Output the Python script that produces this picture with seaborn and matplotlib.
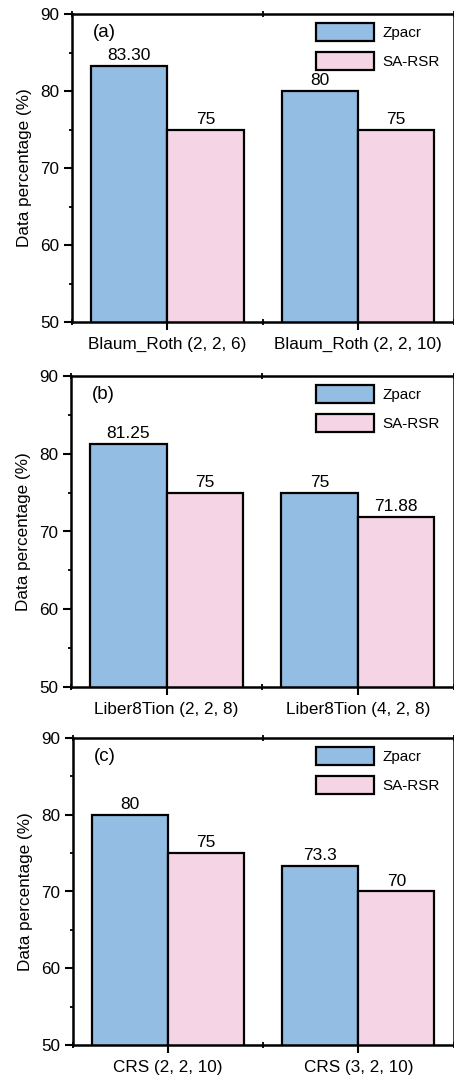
import numpy as np
import pandas as pd
import matplotlib.pyplot as plt
import seaborn as sns
from matplotlib.ticker import MultipleLocator

sns.set_style("ticks")
plt.rcParams['font.family'] = ['Liberation Sans', 'DejaVu Sans']
plt.rcParams['text.color'] = 'black'
plt.rcParams['axes.labelcolor'] = 'black'
plt.rcParams['xtick.color'] = 'black'
plt.rcParams['ytick.color'] = 'black'
plt.rcParams['axes.edgecolor'] = 'black'

methods = ['Zpacr', 'SA-RSR']
colors = ['#93BDE2', '#F5D5E5']
panel_tags = ['(a)', '(b)', '(c)']

codes_a = ['Blaum_Roth (2, 2, 6)', 'Blaum_Roth (2, 2, 10)']
zpacr_a = [83.30, 80]
sarsr_a = [75, 75]
text_a = [['83.30', '80'], ['75', '75']]

codes_b = ['Liber8Tion (2, 2, 8)', 'Liber8Tion (4, 2, 8)']
zpacr_b = [81.25, 75]
sarsr_b = [75, 71.88]
text_b = [['81.25', '75'], ['75', '71.88']]

codes_c = ['CRS (2, 2, 10)', 'CRS (3, 2, 10)']
zpacr_c = [80, 73.3]
sarsr_c = [75, 70]
text_c = [['80', '73.3'], ['75', '70']]

panels = [(codes_a, zpacr_a, sarsr_a, text_a),
          (codes_b, zpacr_b, sarsr_b, text_b),
          (codes_c, zpacr_c, sarsr_c, text_c)]

# axes boxes in pixels (left, top, bottom), figure 454x1081
W, H = 454, 1081
boxes = [(72, 14, 322), (71, 376, 687), (73, 738, 1045)]

fig = plt.figure(figsize=(W / 100, H / 100), dpi=100)

for (codes, zp, sa, txt), (l, t, b), tag in zip(panels, boxes, panel_tags):
    ax = fig.add_axes([l / W, (H - b) / H, (453.5 - l) / W, (b - t) / H])
    df = pd.DataFrame({'code': codes * 2,
                       'method': [methods[0]] * 2 + [methods[1]] * 2,
                       'value': list(zp) + list(sa)})
    sns.barplot(data=df, x='code', y='value', hue='method', hue_order=methods,
                palette=colors, saturation=1, edgecolor='black', linewidth=1.6,
                width=0.8, ax=ax)
    for cont, labs in zip(ax.containers, txt):
        ax.bar_label(cont, labels=labs, padding=2, fontsize=12.5)
    ax.set_ylim(50, 90)
    ax.set_xlim(-0.5, 1.5)
    ax.yaxis.set_major_locator(MultipleLocator(10))
    ax.yaxis.set_minor_locator(MultipleLocator(5))
    ax.xaxis.set_minor_locator(MultipleLocator(0.5))
    ax.tick_params(axis='both', which='major', length=6, width=1.5,
                   labelsize=12.3, direction='out')
    ax.tick_params(axis='x', which='major', pad=5)
    ax.tick_params(axis='y', which='major', pad=3)
    ax.tick_params(axis='y', which='minor', length=2.5, width=1.3, direction='out')
    ax.tick_params(axis='x', which='minor', length=4, width=1.3,
                   direction='inout', top=True)
    for sp in ax.spines.values():
        sp.set_linewidth(1.8)
        sp.set_visible(True)
    ax.set_xlabel('')
    ax.set_ylabel('Data percentage (%)', fontsize=12.3, labelpad=6)
    ax.text(0.055, 0.94, tag, transform=ax.transAxes, fontsize=13.5, va='center')
    ax.legend(loc='upper right', bbox_to_anchor=(1.0, 1.015), frameon=False,
              fontsize=11, handlelength=3.8, handleheight=1.4,
              handletextpad=0.55, labelspacing=0.75)

fig.savefig('out.png', dpi=100)
